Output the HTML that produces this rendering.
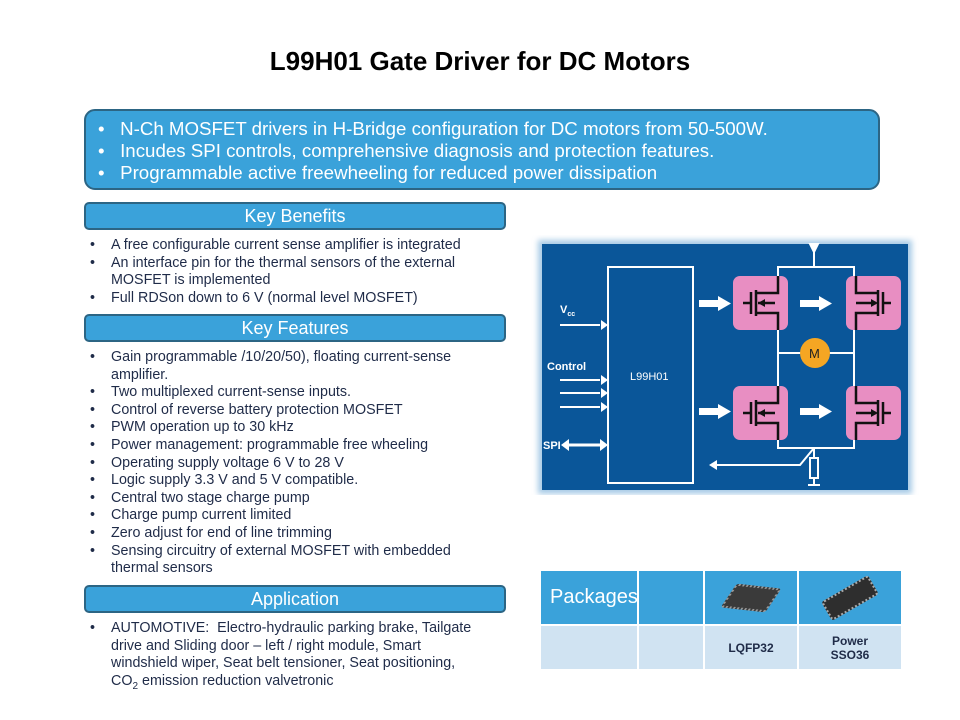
<!DOCTYPE html>
<html><head><meta charset="utf-8"><style>
body{margin:0;width:960px;height:720px;background:#fff;position:relative;overflow:hidden;font-family:"Liberation Sans",sans-serif}
.a{position:absolute}
h1{position:absolute;left:0;width:960px;top:46px;margin:0;text-align:center;font-size:26px;font-weight:bold;color:#000}
.top{left:84px;top:109px;width:792px;height:77px;background:#3aa2da;border:2px solid #2c6584;border-radius:11px;color:#fff;font-size:18.7px}
.top div{position:absolute;left:12px}
.bar{left:84px;width:418px;height:24px;background:#3aa2da;border:2px solid #2c6584;border-radius:5px;color:#fff;font-size:18px;text-align:center;line-height:24px}
ul{position:absolute;left:90px;margin:0;padding:0;list-style:none;font-size:14.3px;line-height:17.6px;color:#1f2b48;width:390px}
li{padding-left:21px;position:relative}
li:before{content:"•";position:absolute;left:0}
td{border:2px solid #fff;padding:0;box-sizing:border-box}
sub{line-height:0;font-size:10px}
</style></head><body>
<h1>L99H01 Gate Driver for DC Motors</h1>
<div class="a top">
<div style="top:7px">•&nbsp;&nbsp;&nbsp;N-Ch MOSFET drivers in H-Bridge configuration for DC motors from 50-500W.</div>
<div style="top:29px">•&nbsp;&nbsp;&nbsp;Incudes SPI controls, comprehensive diagnosis and protection features.</div>
<div style="top:51px">•&nbsp;&nbsp;&nbsp;Programmable active freewheeling for reduced power dissipation</div>
</div>
<div class="a bar" style="top:202px">Key Benefits</div>
<ul style="top:237px">
<li>A free configurable current sense amplifier is integrated</li>
<li>An interface pin for the thermal sensors of the external MOSFET is implemented</li>
<li>Full RDSon down to 6 V (normal level MOSFET)</li>
</ul>
<div class="a bar" style="top:314px">Key Features</div>
<ul style="top:349px">
<li>Gain programmable /10/20/50), floating current-sense amplifier.</li>
<li>Two multiplexed current-sense inputs.</li>
<li>Control of reverse battery protection MOSFET</li>
<li>PWM operation up to 30 kHz</li>
<li>Power management: programmable free wheeling</li>
<li>Operating supply voltage 6 V to 28 V</li>
<li>Logic supply 3.3 V and 5 V compatible.</li>
<li>Central two stage charge pump</li>
<li>Charge pump current limited</li>
<li>Zero adjust for end of line trimming</li>
<li>Sensing circuitry of external MOSFET with embedded thermal sensors</li>
</ul>
<div class="a bar" style="top:585px">Application</div>
<ul style="top:620px">
<li>AUTOMOTIVE:&nbsp; Electro-hydraulic parking brake, Tailgate drive and Sliding door – left / right module, Smart windshield wiper, Seat belt tensioner, Seat positioning,<br>CO<sub>2</sub> emission reduction valvetronic</li>
</ul>

<svg class="a" style="left:530px;top:235px" width="390" height="260" viewBox="530 235 390 260">
<defs><filter id="g"><feGaussianBlur stdDeviation="3"/></filter></defs>
<rect x="538" y="240" width="374" height="254" fill="#a8cbe6" filter="url(#g)"/>
<rect x="542" y="244" width="366" height="246" fill="#0a5699"/>
<g stroke="#fff" stroke-width="2" fill="none">
<rect x="608" y="267" width="85" height="216"/>
<path d="M778 267H854V448H778Z M778 353H854 M814 267V250"/>
<path d="M810 244L818 244L814 252Z" fill="#fff"/>
<path d="M560 325H600 M560 380H600 M560 393H600 M560 407H600"/>
<path d="M814 448L800 465H714"/>
<path d="M814 448V458 M814 478V485 M808 485H820"/>
<rect x="810" y="458" width="8" height="20"/>
<path d="M568 445H601" stroke-width="3"/>
</g>
<g fill="#fff">
<path d="M601 320L608 325L601 330Z M601 375L608 380L601 385Z M601 388L608 393L601 398Z M601 402L608 407L601 412Z"/>
<path d="M709 465L717 460V470Z"/>
<path d="M561 445L569 439V451Z M608 445L600 439V451Z"/>
</g>
<g fill="#ffffff">
<rect x="699" y="300" width="20" height="7"/><path d="M718 296L731 303.5L718 311Z"/>
<rect x="699" y="408" width="20" height="7"/><path d="M718 404L731 411.5L718 419Z"/>
<rect x="800" y="300" width="20" height="7"/><path d="M819 296L832 303.5L819 311Z"/>
<rect x="800" y="408" width="20" height="7"/><path d="M819 404L832 411.5L819 419Z"/>
</g>
<g fill="#e88ec2">
<rect x="733" y="276" width="55" height="54" rx="7"/><rect x="846" y="276" width="55" height="54" rx="7"/>
<rect x="733" y="386" width="55" height="54" rx="7"/><rect x="846" y="386" width="55" height="54" rx="7"/>
</g>
<g stroke="#111" stroke-width="2.5" fill="none">
<path d="M743 303H751 M751 292V314 M756 290V316 M756 293H778V276 M756 313H778V330 M758 303H775"/>
<path d="M743 413H751 M751 402V424 M756 400V426 M756 403H778V386 M756 423H778V440 M758 413H775"/>
<path d="M891 303H883 M883 292V314 M878 290V316 M878 293H856V276 M878 313H856V330 M856 303H876"/>
<path d="M891 413H883 M883 402V424 M878 400V426 M878 403H856V386 M878 423H856V440 M856 413H876"/>
</g>
<g fill="#111"><path d="M758 303l7-4v8z M758 413l7-4v8z M878 303l-7-4v8z M878 413l-7-4v8z"/></g>
<circle cx="815" cy="353" r="15" fill="#f5a623"/>
<g font-family="Liberation Sans" fill="#fff" font-size="11" font-weight="bold">
<text x="809" y="358" fill="#222" font-size="13" font-weight="normal">M</text>
<text x="630" y="380" font-weight="normal">L99H01</text>
<text x="560" y="313">V<tspan font-size="7" dy="3">cc</tspan></text>
<text x="547" y="370">Control</text>
<text x="543" y="449">SPI</text>
</g>
</svg>

<table class="a" style="left:539px;top:569px;border-collapse:collapse;table-layout:fixed;width:364px;font-family:'Liberation Sans';">
<colgroup><col style="width:98px"><col style="width:66px"><col style="width:94px"><col style="width:104px"></colgroup>
<tr style="height:55px;background:#3aa2da"><td style="color:#fff;font-size:20px;padding-left:9px">Packages</td><td></td><td style="text-align:center"><div style="margin:auto;width:44px;height:20px;background:#3a3a3a;transform:skewX(-30deg) rotate(6deg);border:2px dotted #999;border-radius:3px"></div></td><td style="text-align:center"><div style="margin:auto;width:50px;height:18px;background:#2e2e2e;transform:rotate(-30deg);border:2px dotted #aaa;border-radius:3px"></div></td></tr>
<tr style="height:45px;background:#d0e3f2;color:#1f2b48;font-size:12px;font-weight:bold;text-align:center"><td></td><td></td><td>LQFP32</td><td>Power<br>SSO36</td></tr>
</table>
</body></html>
